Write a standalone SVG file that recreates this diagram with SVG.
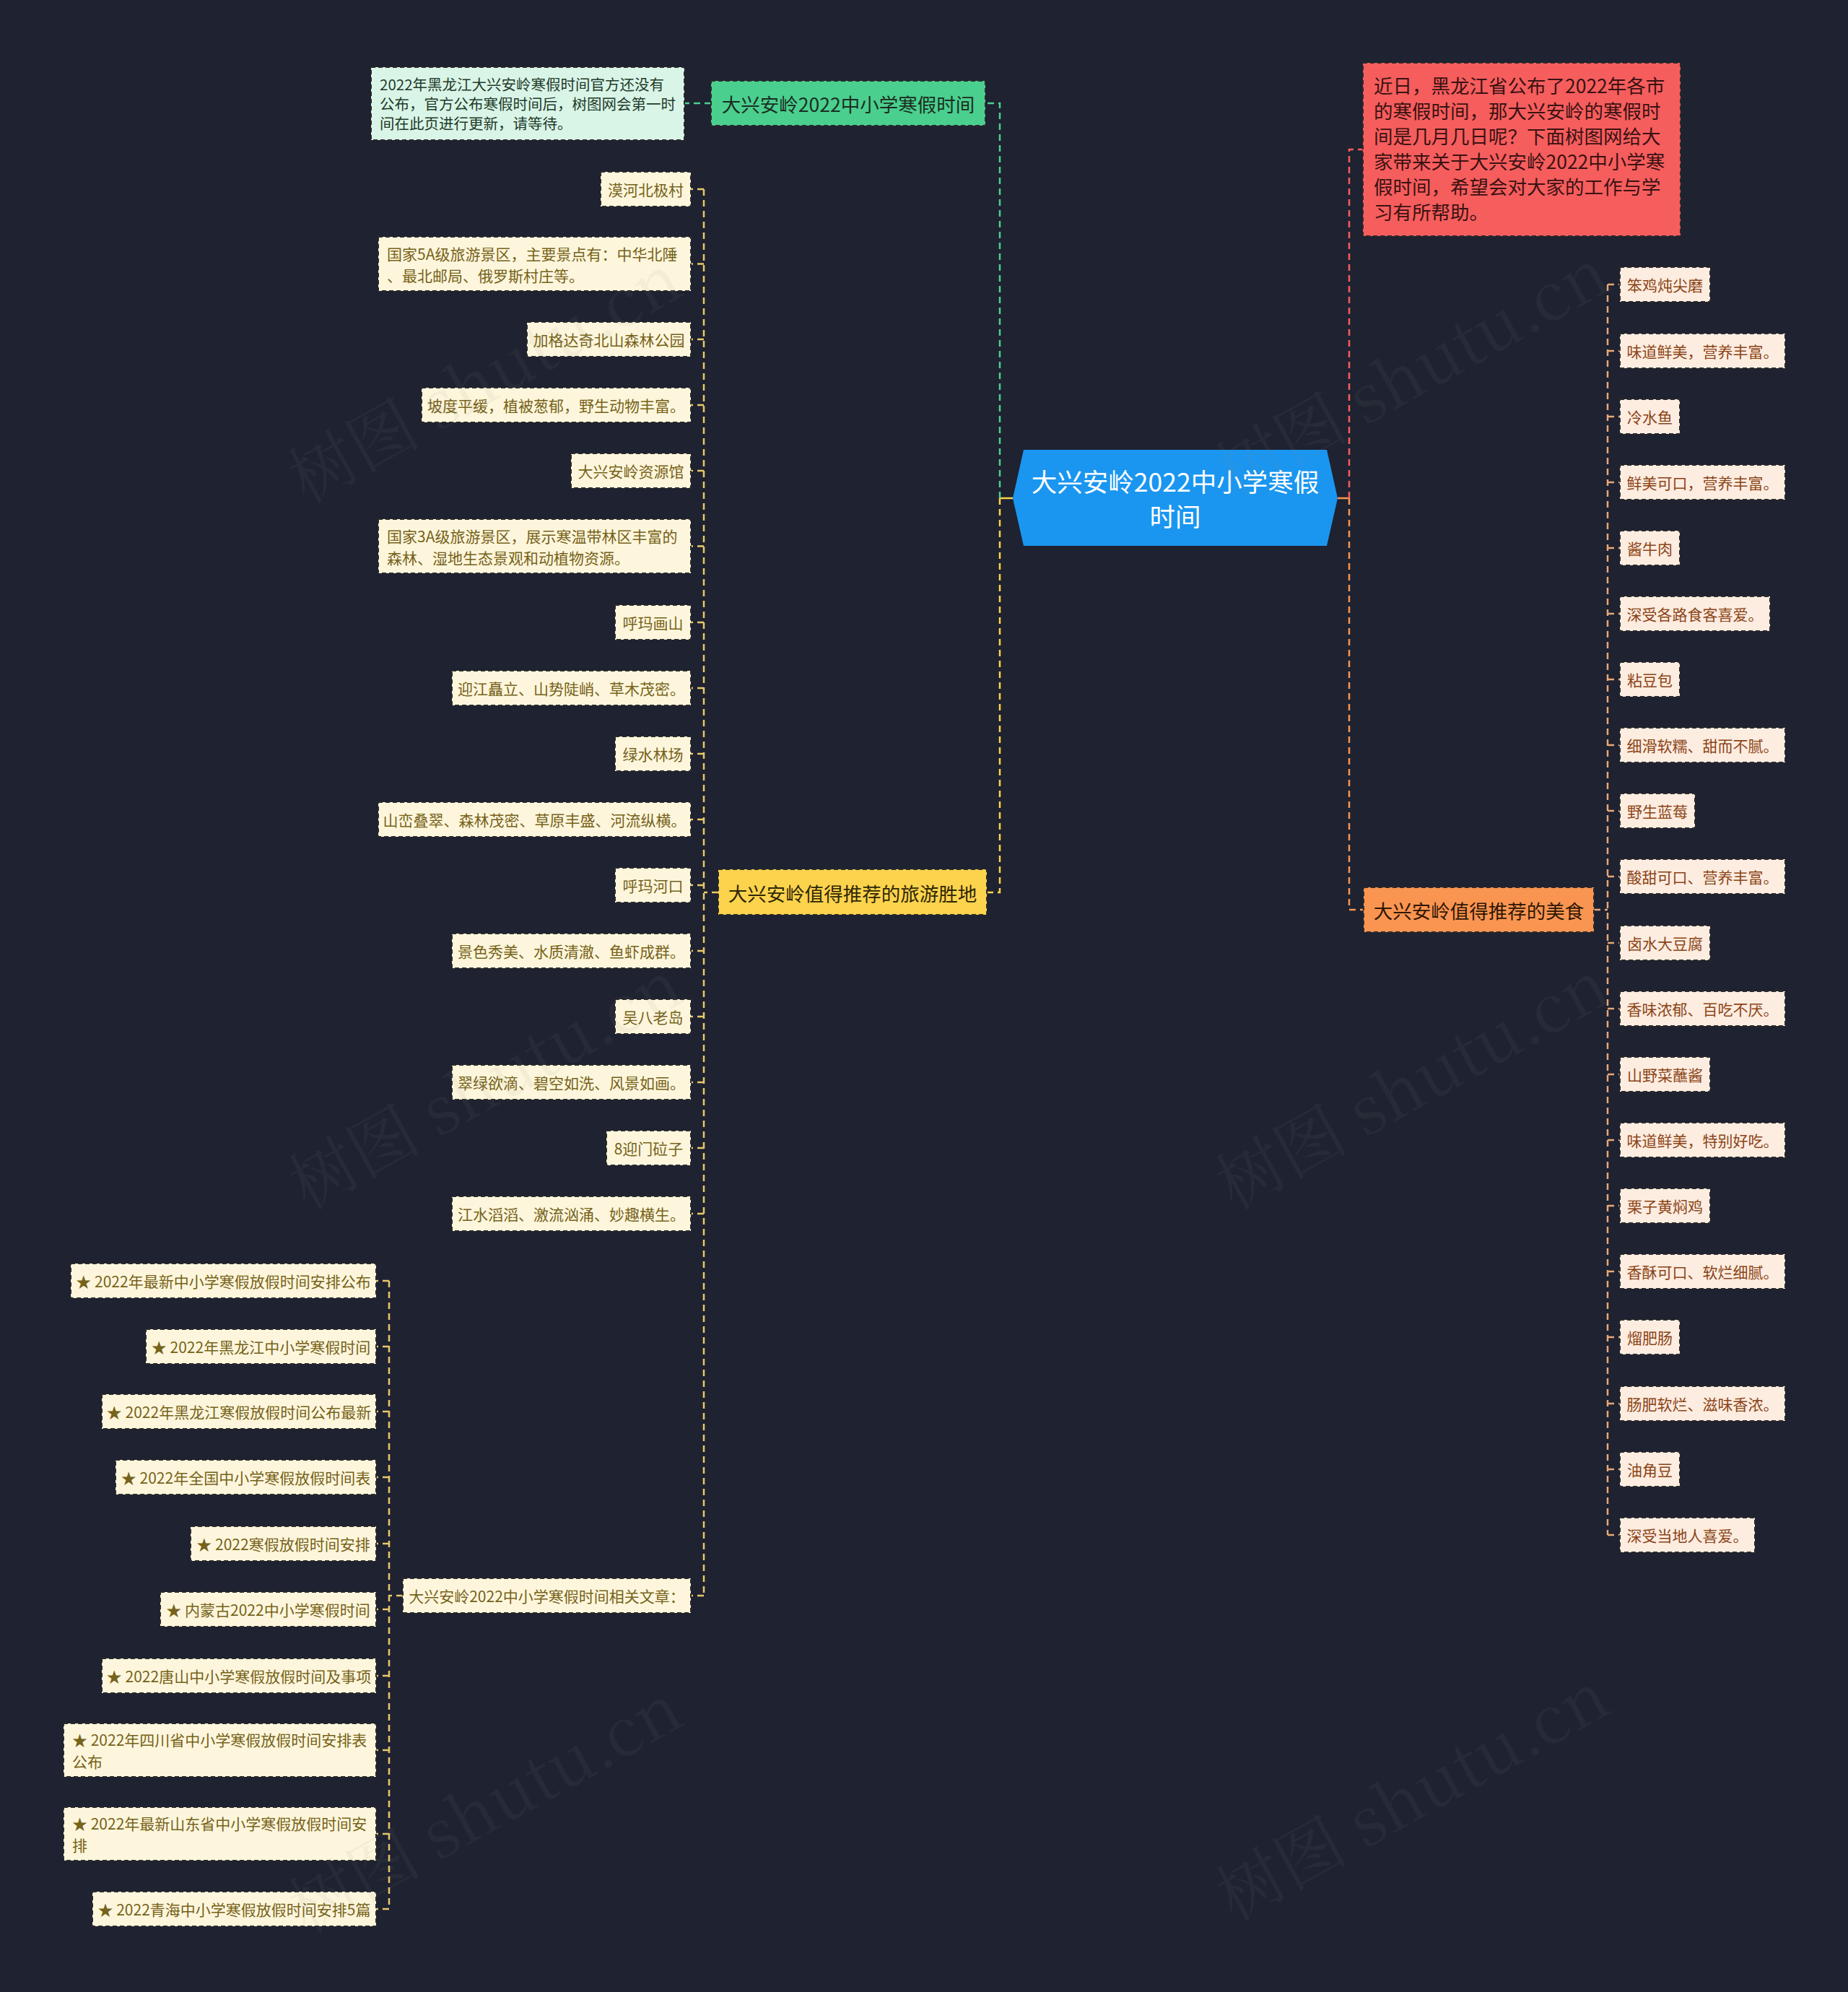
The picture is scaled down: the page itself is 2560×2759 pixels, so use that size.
<svg xmlns="http://www.w3.org/2000/svg" width="2560" height="2759" viewBox="0 0 2560 2759">
<style>
text{font-family:"Noto Sans CJK SC","Noto Sans",sans-serif}
.c{fill:none;stroke-width:2.5;stroke-dasharray:9 6}
.s{fill:none;stroke-width:2.5}
.box{stroke:#2a2a2a;stroke-width:2;stroke-dasharray:6 4}
.ly rect{fill:#fdf6dc}
.ly text{fill:#76621a;font-size:21px}
.lf rect{fill:#fdece0}
.lf text{fill:#8a4416;font-size:21px}
.l1 text{font-size:26.5px}
.mid{text-anchor:middle;dominant-baseline:central}
.st{dominant-baseline:central}
.wm{fill:#8a8a8a;fill-opacity:0.08;font-size:92px;font-family:"Noto Serif CJK SC","Liberation Serif",serif}
</style>
<rect x="0" y="0" width="2560" height="2759" fill="#1f2230"/>

<g id="connectors">
  <path class="s" stroke="#fcd34d" d="M1403 690 H1385"/>
  <path class="s" stroke="#f99551" d="M1853 690 H1869"/>
  <path class="c" stroke="#4bcf8e" d="M1385 690 V143 H1365"/>
  <path class="c" stroke="#fcd34d" d="M1385 690 V1236 H1367"/>
  <path class="c" stroke="#f65d5d" d="M1869 690 V207 H1888"/>
  <path class="c" stroke="#f99551" d="M1869 690 V1260 H1889"/>
  <path class="c" stroke="#4bcf8e" d="M985 143 H948"/>
  <g stroke="#e8c86a">
    <path class="c" d="M995 1236 H975"/>
    <path class="c" d="M975 262 V2210"/>
    <path class="c" d="M975 262 H957 M975 365.5 H957 M975 470 H957 M975 561 H957 M975 652 H957 M975 756.5 H957 M975 862 H957 M975 953 H957 M975 1044 H957 M975 1135 H957 M975 1226 H957 M975 1317 H957 M975 1408 H957 M975 1499 H957 M975 1590 H957 M975 1681 H957 M975 2210 H957"/>
    <path class="c" d="M558 2210 H539"/>
    <path class="c" d="M539 1774 V2644"/>
    <path class="c" d="M539 1774 H521 M539 1865 H521 M539 1955 H521 M539 2046 H521 M539 2138 H521 M539 2229 H521 M539 2321 H521 M539 2424 H521 M539 2540 H521 M539 2644 H521"/>
  </g>
  <g stroke="#e8a878">
    <path class="c" d="M2208 1260 H2227"/>
    <path class="c" d="M2227 394 V2126"/>
    <path class="c" d="M2227 394 H2244 M2227 486 H2244 M2227 577 H2244 M2227 668 H2244 M2227 759 H2244 M2227 850 H2244 M2227 941 H2244 M2227 1032 H2244 M2227 1123 H2244 M2227 1214 H2244 M2227 1306 H2244 M2227 1397 H2244 M2227 1488 H2244 M2227 1579 H2244 M2227 1670 H2244 M2227 1761 H2244 M2227 1852 H2244 M2227 1944 H2244 M2227 2035 H2244 M2227 2126 H2244"/>
  </g>
</g>

<g id="center">
  <polygon points="1418,623 1838,623 1853,690 1838,756 1418,756 1403,690" fill="#1a96f0"/>
  <text x="1628" y="665" class="mid" fill="#ffffff" font-size="35.5">大兴安岭2022中小学寒假</text>
  <text x="1628" y="713" class="mid" fill="#ffffff" font-size="35.5">时间</text>
</g>

<g id="n-green" class="l1">
  <rect class="box" x="985" y="112" width="380" height="62" fill="#4bcf8e" stroke="#1e5a3a"/>
  <text x="1175" y="143" class="mid" fill="#1a2e22">大兴安岭2022中小学寒假时间</text>
</g>
<g id="n-green-detail">
  <rect class="box" x="514" y="93" width="434" height="101" fill="#d9f5e7"/>
  <text x="526" y="116" class="st" fill="#1f3a2a" font-size="20.5">2022年黑龙江大兴安岭寒假时间官方还没有</text>
  <text x="526" y="143" class="st" fill="#1f3a2a" font-size="20.5">公布，官方公布寒假时间后，树图网会第一时</text>
  <text x="526" y="170" class="st" fill="#1f3a2a" font-size="20.5">间在此页进行更新，请等待。</text>
</g>

<g id="n-red" class="l1">
  <rect class="box" x="1888" y="87" width="440" height="240" fill="#f65d5d" stroke="#5a1a1a"/>
  <text x="1903" y="117" class="st" fill="#3a1212">近日，黑龙江省公布了2022年各市</text>
  <text x="1903" y="152" class="st" fill="#3a1212">的寒假时间，那大兴安岭的寒假时</text>
  <text x="1903" y="187" class="st" fill="#3a1212">间是几月几日呢？下面树图网给大</text>
  <text x="1903" y="222" class="st" fill="#3a1212">家带来关于大兴安岭2022中小学寒</text>
  <text x="1903" y="257" class="st" fill="#3a1212">假时间，希望会对大家的工作与学</text>
  <text x="1903" y="292" class="st" fill="#3a1212">习有所帮助。</text>
</g>

<g id="n-yellow" class="l1">
  <rect class="box" x="995" y="1204" width="372" height="63" fill="#fcd34d" stroke="#5a4a10"/>
  <text x="1181" y="1236" class="mid" fill="#2e2605">大兴安岭值得推荐的旅游胜地</text>
</g>

<g id="n-orange" class="l1">
  <rect class="box" x="1889" y="1229" width="319" height="62" fill="#f99551" stroke="#5a2a10"/>
  <text x="2048.5" y="1260" class="mid" fill="#2e1605">大兴安岭值得推荐的美食</text>
</g>

<g id="tourist">
  <g id="t1" class="ly"><rect class="box" x="832" y="238" width="125" height="48"/><text x="894.5" y="262" class="mid">漠河北极村</text></g>
  <g id="t2" class="ly"><rect class="box" x="524" y="328" width="433" height="75"/><text x="536" y="351" class="st">国家5A级旅游景区，主要景点有：中华北陲</text><text x="536" y="381" class="st">、最北邮局、俄罗斯村庄等。</text></g>
  <g id="t3" class="ly"><rect class="box" x="730" y="446" width="227" height="48"/><text x="843.5" y="470" class="mid">加格达奇北山森林公园</text></g>
  <g id="t4" class="ly"><rect class="box" x="584" y="537" width="373" height="48"/><text x="770.5" y="561" class="mid">坡度平缓，植被葱郁，野生动物丰富。</text></g>
  <g id="t5" class="ly"><rect class="box" x="791" y="628" width="166" height="48"/><text x="874" y="652" class="mid">大兴安岭资源馆</text></g>
  <g id="t6" class="ly"><rect class="box" x="524" y="719" width="433" height="75"/><text x="536" y="742" class="st">国家3A级旅游景区，展示寒温带林区丰富的</text><text x="536" y="772" class="st">森林、湿地生态景观和动植物资源。</text></g>
  <g id="t7" class="ly"><rect class="box" x="852" y="838" width="105" height="48"/><text x="904.5" y="862" class="mid">呼玛画山</text></g>
  <g id="t8" class="ly"><rect class="box" x="626" y="929" width="331" height="48"/><text x="791.5" y="953" class="mid">迎江矗立、山势陡峭、草木茂密。</text></g>
  <g id="t9" class="ly"><rect class="box" x="852" y="1020" width="105" height="48"/><text x="904.5" y="1044" class="mid">绿水林场</text></g>
  <g id="t10" class="ly"><rect class="box" x="524" y="1111" width="433" height="48"/><text x="740.5" y="1135" class="mid">山峦叠翠、森林茂密、草原丰盛、河流纵横。</text></g>
  <g id="t11" class="ly"><rect class="box" x="852" y="1202" width="105" height="48"/><text x="904.5" y="1226" class="mid">呼玛河口</text></g>
  <g id="t12" class="ly"><rect class="box" x="626" y="1293" width="331" height="48"/><text x="791.5" y="1317" class="mid">景色秀美、水质清澈、鱼虾成群。</text></g>
  <g id="t13" class="ly"><rect class="box" x="852" y="1384" width="105" height="48"/><text x="904.5" y="1408" class="mid">吴八老岛</text></g>
  <g id="t14" class="ly"><rect class="box" x="626" y="1475" width="331" height="48"/><text x="791.5" y="1499" class="mid">翠绿欲滴、碧空如洗、风景如画。</text></g>
  <g id="t15" class="ly"><rect class="box" x="840" y="1566" width="117" height="48"/><text x="898.5" y="1590" class="mid">8迎门砬子</text></g>
  <g id="t16" class="ly"><rect class="box" x="626" y="1657" width="331" height="48"/><text x="791.5" y="1681" class="mid">江水滔滔、激流汹涌、妙趣横生。</text></g>
  <g id="t17" class="ly"><rect class="box" x="558" y="2186" width="399" height="48"/><text x="757.5" y="2210" class="mid">大兴安岭2022中小学寒假时间相关文章：</text></g>
</g>

<g id="articles">
  <g id="a1" class="ly"><rect class="box" x="98" y="1750" width="423" height="48"/><text x="309.5" y="1774" class="mid">★ 2022年最新中小学寒假放假时间安排公布</text></g>
  <g id="a2" class="ly"><rect class="box" x="202" y="1841" width="319" height="48"/><text x="361.5" y="1865" class="mid">★ 2022年黑龙江中小学寒假时间</text></g>
  <g id="a3" class="ly"><rect class="box" x="141" y="1931" width="380" height="48"/><text x="331" y="1955" class="mid">★ 2022年黑龙江寒假放假时间公布最新</text></g>
  <g id="a4" class="ly"><rect class="box" x="160" y="2022" width="361" height="48"/><text x="340.5" y="2046" class="mid">★ 2022年全国中小学寒假放假时间表</text></g>
  <g id="a5" class="ly"><rect class="box" x="264" y="2114" width="257" height="48"/><text x="392.5" y="2138" class="mid">★ 2022寒假放假时间安排</text></g>
  <g id="a6" class="ly"><rect class="box" x="222" y="2205" width="299" height="48"/><text x="371.5" y="2229" class="mid">★ 内蒙古2022中小学寒假时间</text></g>
  <g id="a7" class="ly"><rect class="box" x="141" y="2297" width="380" height="48"/><text x="331" y="2321" class="mid">★ 2022唐山中小学寒假放假时间及事项</text></g>
  <g id="a8" class="ly"><rect class="box" x="88" y="2387" width="433" height="74"/><text x="100" y="2409" class="st">★ 2022年四川省中小学寒假放假时间安排表</text><text x="100" y="2439" class="st">公布</text></g>
  <g id="a9" class="ly"><rect class="box" x="88" y="2503" width="433" height="74"/><text x="100" y="2525" class="st">★ 2022年最新山东省中小学寒假放假时间安</text><text x="100" y="2555" class="st">排</text></g>
  <g id="a10" class="ly"><rect class="box" x="128" y="2620" width="393" height="48"/><text x="324.5" y="2644" class="mid">★ 2022青海中小学寒假放假时间安排5篇</text></g>
</g>

<g id="food">
  <g id="f1" class="lf"><rect class="box" x="2244" y="370" width="125" height="48"/><text x="2306.5" y="394" class="mid">笨鸡炖尖磨</text></g>
  <g id="f2" class="lf"><rect class="box" x="2244" y="462" width="229" height="48"/><text x="2358.5" y="486" class="mid">味道鲜美，营养丰富。</text></g>
  <g id="f3" class="lf"><rect class="box" x="2244" y="553" width="83" height="48"/><text x="2285.5" y="577" class="mid">冷水鱼</text></g>
  <g id="f4" class="lf"><rect class="box" x="2244" y="644" width="229" height="48"/><text x="2358.5" y="668" class="mid">鲜美可口，营养丰富。</text></g>
  <g id="f5" class="lf"><rect class="box" x="2244" y="735" width="83" height="48"/><text x="2285.5" y="759" class="mid">酱牛肉</text></g>
  <g id="f6" class="lf"><rect class="box" x="2244" y="826" width="208" height="48"/><text x="2348" y="850" class="mid">深受各路食客喜爱。</text></g>
  <g id="f7" class="lf"><rect class="box" x="2244" y="917" width="83" height="48"/><text x="2285.5" y="941" class="mid">粘豆包</text></g>
  <g id="f8" class="lf"><rect class="box" x="2244" y="1008" width="229" height="48"/><text x="2358.5" y="1032" class="mid">细滑软糯、甜而不腻。</text></g>
  <g id="f9" class="lf"><rect class="box" x="2244" y="1099" width="104" height="48"/><text x="2296" y="1123" class="mid">野生蓝莓</text></g>
  <g id="f10" class="lf"><rect class="box" x="2244" y="1190" width="229" height="48"/><text x="2358.5" y="1214" class="mid">酸甜可口、营养丰富。</text></g>
  <g id="f11" class="lf"><rect class="box" x="2244" y="1282" width="125" height="48"/><text x="2306.5" y="1306" class="mid">卤水大豆腐</text></g>
  <g id="f12" class="lf"><rect class="box" x="2244" y="1373" width="229" height="48"/><text x="2358.5" y="1397" class="mid">香味浓郁、百吃不厌。</text></g>
  <g id="f13" class="lf"><rect class="box" x="2244" y="1464" width="125" height="48"/><text x="2306.5" y="1488" class="mid">山野菜蘸酱</text></g>
  <g id="f14" class="lf"><rect class="box" x="2244" y="1555" width="229" height="48"/><text x="2358.5" y="1579" class="mid">味道鲜美，特别好吃。</text></g>
  <g id="f15" class="lf"><rect class="box" x="2244" y="1646" width="125" height="48"/><text x="2306.5" y="1670" class="mid">栗子黄焖鸡</text></g>
  <g id="f16" class="lf"><rect class="box" x="2244" y="1737" width="229" height="48"/><text x="2358.5" y="1761" class="mid">香酥可口、软烂细腻。</text></g>
  <g id="f17" class="lf"><rect class="box" x="2244" y="1828" width="83" height="48"/><text x="2285.5" y="1852" class="mid">熘肥肠</text></g>
  <g id="f18" class="lf"><rect class="box" x="2244" y="1920" width="229" height="48"/><text x="2358.5" y="1944" class="mid">肠肥软烂、滋味香浓。</text></g>
  <g id="f19" class="lf"><rect class="box" x="2244" y="2011" width="83" height="48"/><text x="2285.5" y="2035" class="mid">油角豆</text></g>
  <g id="f20" class="lf"><rect class="box" x="2244" y="2102" width="187" height="48"/><text x="2337.5" y="2126" class="mid">深受当地人喜爱。</text></g>
</g>

<g id="watermarks">
  <text class="wm mid" transform="translate(668 518) rotate(-29)">树图 shutu.cn</text>
  <text class="wm mid" transform="translate(1953 510) rotate(-29)">树图 shutu.cn</text>
  <text class="wm mid" transform="translate(669 1496) rotate(-29)">树图 shutu.cn</text>
  <text class="wm mid" transform="translate(1953 1496) rotate(-29)">树图 shutu.cn</text>
  <text class="wm mid" transform="translate(669 2498) rotate(-29)">树图 shutu.cn</text>
  <text class="wm mid" transform="translate(1953 2481) rotate(-29)">树图 shutu.cn</text>
</g>
</svg>
